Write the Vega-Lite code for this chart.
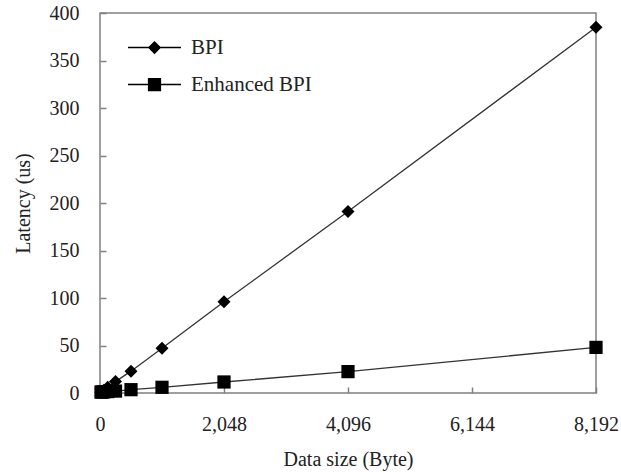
{
  "$schema": "https://vega.github.io/schema/vega-lite/v6.json",
  "width": 496,
  "height": 380,
  "autosize": "none",
  "padding": {"left": 100, "top": 13, "right": 25, "bottom": 79},
  "config": {
    "font": "Liberation Serif",
    "view": {"stroke": "#808080", "strokeWidth": 1.5},
    "axis": {
      "grid": false,
      "domain": false,
      "tickColor": "#808080",
      "tickWidth": 1.5,
      "tickSize": -6,
      "labelFont": "Liberation Serif",
      "labelFontSize": 20,
      "labelColor": "#222",
      "labelFlush": false,
      "titleFont": "Liberation Serif",
      "titleFontSize": 20,
      "titleFontWeight": "normal",
      "titleColor": "#222"
    },
    "legend": {"labelFont": "Liberation Serif"}
  },
  "data": {
    "values": [
      {"size": 16, "series": "BPI", "latency": 0.8},
      {"size": 32, "series": "BPI", "latency": 1.5},
      {"size": 64, "series": "BPI", "latency": 3},
      {"size": 128, "series": "BPI", "latency": 6},
      {"size": 256, "series": "BPI", "latency": 12},
      {"size": 512, "series": "BPI", "latency": 23},
      {"size": 1024, "series": "BPI", "latency": 47},
      {"size": 2048, "series": "BPI", "latency": 96},
      {"size": 4096, "series": "BPI", "latency": 191},
      {"size": 8192, "series": "BPI", "latency": 385},
      {"size": 16, "series": "Enhanced BPI", "latency": 1},
      {"size": 32, "series": "Enhanced BPI", "latency": 1},
      {"size": 64, "series": "Enhanced BPI", "latency": 1.2},
      {"size": 128, "series": "Enhanced BPI", "latency": 1.5},
      {"size": 256, "series": "Enhanced BPI", "latency": 2},
      {"size": 512, "series": "Enhanced BPI", "latency": 3.5},
      {"size": 1024, "series": "Enhanced BPI", "latency": 6},
      {"size": 2048, "series": "Enhanced BPI", "latency": 11.6},
      {"size": 4096, "series": "Enhanced BPI", "latency": 22.5},
      {"size": 8192, "series": "Enhanced BPI", "latency": 48}
    ]
  },
  "encoding": {
    "x": {
      "field": "size",
      "type": "quantitative",
      "scale": {"domain": [0, 8192], "nice": false},
      "axis": {"values": [0, 2048, 4096, 6144, 8192], "format": ",d", "labelPadding": 27, "titlePadding": 15},
      "title": "Data size (Byte)"
    },
    "y": {
      "field": "latency",
      "type": "quantitative",
      "scale": {"domain": [0, 400], "nice": false},
      "axis": {"values": [0, 50, 100, 150, 200, 250, 300, 350, 400], "labelPadding": 27, "titlePadding": 16},
      "title": "Latency (us)"
    }
  },
  "resolve": {"scale": {"shape": "independent"}},
  "layer": [
    {
      "mark": {"type": "line", "color": "#333", "strokeWidth": 1.3},
      "encoding": {"detail": {"field": "series", "type": "nominal"}}
    },
    {
      "transform": [{"filter": "datum.series === 'BPI'"}],
      "mark": {"type": "point", "filled": true, "opacity": 1, "color": "black", "size": 170, "shape": "diamond"}
    },
    {
      "transform": [{"filter": "datum.series === 'Enhanced BPI'"}],
      "mark": {"type": "point", "filled": true, "opacity": 1, "color": "black", "size": 175, "shape": "square"}
    },
    {
      "mark": {"type": "point", "filled": true, "opacity": 0, "color": "black", "size": 2809},
      "encoding": {
        "shape": {
          "field": "series",
          "type": "nominal",
          "scale": {
            "domain": ["BPI", "Enhanced BPI"],
            "range": [
              "M-1,-0.025H1V0.025H-1Z M0,-0.25L0.25,0L0,0.25L-0.25,0Z",
              "M-1,-0.025H1V0.025H-1Z M-0.25,-0.25H0.25V0.25H-0.25Z"
            ]
          },
          "legend": {
            "title": null,
            "orient": "none",
            "legendX": 28,
            "legendY": 8,
            "symbolSize": 2809,
            "symbolFillColor": "black",
            "symbolStrokeWidth": 0,
            "symbolOpacity": 1,
            "labelFont": "Liberation Serif",
            "labelFontSize": 21,
            "labelColor": "#222",
            "labelOffset": 10,
            "rowPadding": -2
          }
        }
      }
    }
  ]
}
